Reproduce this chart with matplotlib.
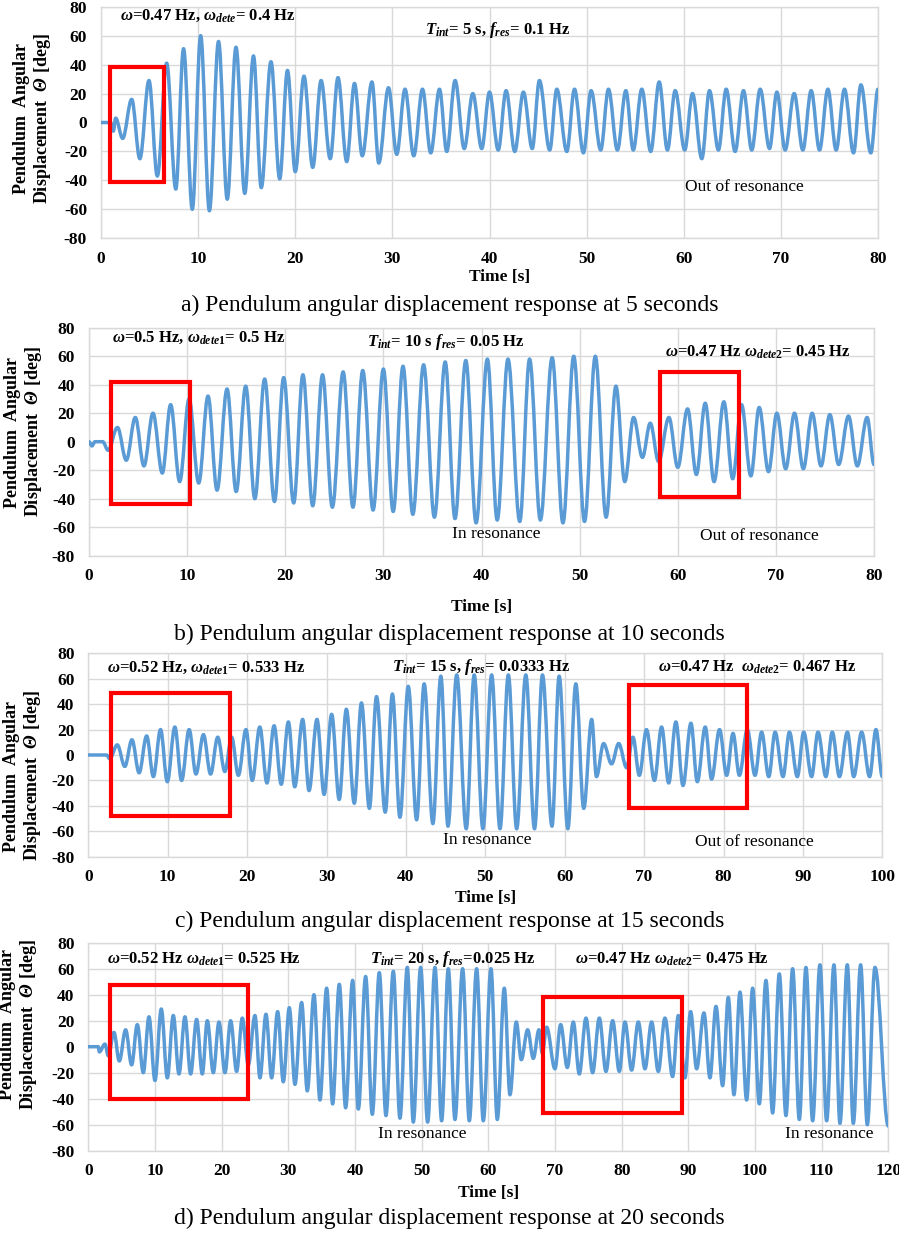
import matplotlib
matplotlib.use("Agg")
import matplotlib.pyplot as plt
from matplotlib.path import Path
from matplotlib.patches import PathPatch, Rectangle

plt.rcParams["font.family"] = ["Liberation Serif", "DejaVu Serif"]
plt.rcParams["axes.unicode_minus"] = False
plt.rcParams["mathtext.fontset"] = "custom"
plt.rcParams["mathtext.rm"] = "Liberation Serif:bold"
plt.rcParams["mathtext.it"] = "Liberation Serif:italic:bold"
plt.rcParams["mathtext.bf"] = "Liberation Serif:bold"
plt.rcParams["mathtext.sf"] = "Liberation Serif:italic:bold"

# ---- data: turning points (time [s], angle [deg]) ----
a_time = [0, 1.0, 1.27, 1.51, 2.23, 3.16, 4.0, 4.94, 5.8, 6.76, 7.7, 8.5, 9.4, 10.26, 11.16,
          12.1, 13.0, 13.9, 14.8, 15.7, 16.5, 17.5, 18.4, 19.2, 20.0, 20.9, 21.8, 22.66, 23.6,
          24.4, 25.3, 26.1, 26.9, 27.9, 28.6, 29.6, 30.45, 31.3, 32.2, 33.1, 33.95, 34.85,
          35.6, 36.46, 37.4, 38.28, 39.2, 40.0, 40.9, 41.71, 42.6, 43.49, 44.4, 45.14, 46.2,
          46.93, 47.96, 48.75, 49.67, 50.46, 51.45, 52.25, 53.17, 54.04, 54.8, 55.68, 56.6,
          57.47, 58.32, 59.12, 60.1, 60.9, 61.86, 62.65, 63.57, 64.37, 65.29, 66.15, 67.0,
          67.87, 68.83, 69.59, 70.44, 71.37, 72.26, 73.12, 73.98, 74.84, 75.69, 76.55, 77.48,
          78.24, 79.26, 80.0]
a_theta = [0, 0, -6, 3, -11, 16, -25, 29, -37, 41, -46, 51, -60, 60, -61,
           56, -53, 52, -49, 46, -45, 42, -39, 36, -34, 32, -31, 29, -25,
           31, -27, 27, -23, 28, -28, 24, -22, 23, -23, 23, -21, 23,
           -20, 29, -18, 20, -18, 21, -19, 22, -20, 21, -18, 29, -19,
           23, -20, 23, -21, 22, -19, 23, -19, 22, -19, 23, -20,
           28, -19, 22, -19, 20, -25, 22, -19, 23, -20, 22, -19,
           23, -18, 21, -19, 20, -19, 22, -19, 23, -19, 23, -21,
           26, -21, 23]

b_time = [0, 0.3, 0.6, 1.4, 1.94, 2.9, 3.8, 4.72, 5.6, 6.52, 7.47, 8.32, 9.24, 10.2, 11.18,
          12.13, 13.05, 14.07, 15.0, 15.97, 16.9, 17.9, 18.9, 19.84, 20.86, 21.8, 22.8, 23.8,
          24.8, 25.9, 26.9, 27.9, 28.95, 30.0, 31.0, 32.0, 33.0, 34.1, 35.2, 36.3, 37.3, 38.4,
          39.45, 40.6, 41.6, 42.7, 43.9, 44.9, 46.0, 47.2, 48.3, 49.4, 50.5, 51.6, 52.7, 53.7,
          54.6, 55.5, 56.4, 57.2, 58.05, 59.1, 60.0, 61.0, 61.9, 62.8, 63.7, 64.7, 65.6, 66.5,
          67.45, 68.3, 69.25, 70.1, 71.0, 71.9, 72.8, 73.7, 74.6, 75.5, 76.4, 77.4, 78.3, 79.3,
          80.0]
b_theta = [0, -3, 0, 0, -6, 10, -13, 17, -17, 20, -22, 26, -28, 30, -29,
           32, -34, 37, -35, 39, -40, 44, -42, 45, -43, 47, -45, 47,
           -46, 49, -46, 50, -48, 51, -49, 53, -51, 54, -53, 56, -54, 57,
           -57, 58, -55, 58, -56, 58, -55, 59, -57, 60, -56, 60, -53, 39,
           -28, 17, -11, 13, -14, 17, -18, 23, -23, 27, -28, 28, -26, 26,
           -24, 24, -21, 20, -19, 20, -19, 20, -17, 19, -16, 18, -17, 17,
           -16]

c_time = [0, 2.3, 2.7, 3.65, 4.6, 5.5, 6.4, 7.35, 8.2, 9.1, 9.95, 10.9, 11.75, 12.7, 13.56,
          14.5, 15.4, 16.3, 17.2, 18.05, 18.9, 19.86, 20.65, 21.6, 22.5, 23.4, 24.3, 25.2,
          26.0, 27.0, 27.8, 28.8, 29.7, 30.65, 31.6, 32.5, 33.5, 34.4, 35.4, 36.3, 37.4, 38.3,
          39.25, 40.3, 41.35, 42.3, 43.4, 44.4, 45.3, 46.4, 47.6, 48.6, 49.7, 50.8, 51.85,
          52.9, 53.95, 55.1, 56.2, 57.2, 58.4, 59.3, 60.4, 61.4, 62.4, 63.4, 64.0, 64.9, 65.9,
          66.8, 67.8, 68.6, 69.4, 70.3, 71.3, 72.2, 73.1, 74.0, 74.9, 75.9, 76.7, 77.7, 78.5,
          79.5, 80.4, 81.2, 82.0, 83.0, 83.97, 84.8, 85.7, 86.5, 87.5, 88.3, 89.3, 90.1, 91.1,
          91.9, 92.9, 93.7, 94.6, 95.6, 96.4, 97.4, 98.4, 99.2, 100.0]
c_theta = [0, 0, -3, 8, -9, 12, -14, 15, -17, 20, -21, 22, -20, 20, -15,
           16, -15, 14, -13, 14, -16, 20, -20, 22, -22, 23, -23, 26,
           -25, 28, -28, 28, -31, 32, -35, 36, -38, 41, -42, 46, -45, 48,
           -49, 54, -51, 56, -54, 62, -56, 63, -58, 63, -58, 63, -58,
           63, -58, 63, -58, 63, -56, 62, -58, 56, -42, 28, -17, 9, -7,
           9, -10, 14, -16, 20, -20, 22, -22, 26, -24, 25, -21, 22, -19,
           20, -16, 17, -16, 20, -16, 18, -17, 18, -17, 18, -17, 18, -17,
           18, -17, 18, -17, 18, -17, 18, -17, 20, -17]

d_time = [0, 1.5, 1.65, 2.5, 3.0, 3.85, 4.65, 5.6, 6.5, 7.35, 8.25, 9.1, 10.0, 10.95, 11.85,
          12.75, 13.6, 14.5, 15.35, 16.25, 17.1, 17.85, 18.75, 19.6, 20.5, 21.35, 22.25, 23.1,
          24.0, 25.0, 25.75, 26.65, 27.5, 28.4, 29.25, 30.15, 31.0, 32.0, 32.85, 33.85, 34.75,
          35.75, 36.65, 37.65, 38.6, 39.65, 40.5, 41.6, 42.6, 43.65, 44.65, 45.75, 46.75, 47.85,
          48.75, 49.85, 50.9, 52.0, 53.0, 54.0, 55.0, 56.15, 57.15, 58.25, 59.25, 60.4, 61.35,
          62.4, 63.25, 64.2, 64.95, 65.9, 66.75, 67.6, 68.1, 68.75, 70.0, 70.85, 71.85, 72.75,
          73.65, 74.65, 75.65, 76.65, 77.65, 78.65, 79.65, 80.5, 81.5, 82.5, 83.5, 84.5, 85.5,
          86.5, 87.65, 88.5, 89.5, 90.35, 91.25, 92.35, 93.25, 94.15, 95.15, 96.0, 96.85, 97.75,
          98.75, 99.65, 100.65, 101.65, 102.65, 103.65, 104.65, 105.65, 106.65, 107.65, 108.65,
          109.75, 110.75, 111.85, 112.75, 113.85, 114.75, 115.85, 116.85, 118.0, 120.0]
d_theta = [0, 0, -4, 2, -7, 11, -11, 13, -14, 17, -20, 23, -26, 29, -24,
           24, -21, 23, -21, 21, -21, 20, -20, 19, -20, 20, -19, 22,
           -14, 24, -24, 25, -24, 27, -27, 30, -29, 34, -34, 40, -41,
           45, -44, 48, -47, 51, -48, 54, -52, 57, -53, 58, -55, 61,
           -58, 61, -58, 61, -57, 60, -56, 60, -57, 60, -57, 60, -56,
           45, -37, 19, -10, 13, -9, 13, -5, 15, -17, 17, -16, 19,
           -21, 22, -20, 22, -19, 20, -19, 19, -18, 19, -17, 19, -19,
           22, -23, 24, -24, 27, -17, 26, -24, 31, -30, 38, -37, 42,
           -41, 45, -44, 51, -51, 56, -53, 60, -56, 61, -57,
           63, -57, 63, -59, 63, -59, 63, -60, 61, -61]

# highlighted windows: (t_start, t_end, theta_low, theta_high)
a_boxes = [(0.9, 6.5, -41, 38)]
b_boxes = [(2.2, 10.3, -44, 42), (58.2, 66.2, -39, 49)]
c_boxes = [(2.9, 17.8, -48, 49), (68.1, 83.0, -41.5, 55)]
d_boxes = [(3.25, 24.0, -40.5, 47.5), (68.25, 89.0, -51, 38)]

captions = ["a) Pendulum angular displacement response at 5 seconds",
            "b) Pendulum angular displacement response at 10 seconds",
            "c) Pendulum angular displacement response at 15 seconds",
            "d) Pendulum angular displacement response at 20 seconds"]

W, H = 899, 1233
LINE = "#5B9BD5"
GRID = "#D9D9D9"
RED = "#FF0000"


def wave_path(t, v, k=0.36):
    # smooth cubic segments between turning points (flat tangent at each extreme)
    verts = [(t[0], v[0])]
    codes = [Path.MOVETO]
    for i in range(1, len(t)):
        dt = t[i] - t[i - 1]
        verts += [(t[i - 1] + k * dt, v[i - 1]), (t[i] - k * dt, v[i]), (t[i], v[i])]
        codes += [Path.CURVE4] * 3
    return Path(verts, codes)


panels = [
    dict(t=a_time, v=a_theta, boxes=a_boxes, xmax=80, px=(101, 878, 6.7, 238.3),
         ylab=(33, 119), xlab=(500, 277), cap=305,
         bold=[(1.95, 74, r"$\omega$=0.47 Hz, $\omega_{dete}$= 0.4 Hz"),
               (33.4, 64, r"$T_{int}$= 5 s, $f_{res}$= 0.1 Hz")],
         plain=[(60.1, -44.6, "Out of resonance")]),
    dict(t=b_time, v=b_theta, boxes=b_boxes, xmax=80, px=(89, 874, 327.7, 555.7),
         ylab=(24, 432), xlab=(482, 607), cap=634,
         bold=[(2.3, 73, r"$\omega$=0.5 Hz, $\omega_{dete1}$= 0.5 Hz"),
               (28.3, 70, r"$T_{int}$= 10 s $f_{res}$= 0.05 Hz"),
               (58.7, 63, r"$\omega$=0.47 Hz $\omega_{dete2}$= 0.45 Hz")],
         plain=[(37.0, -65, "In resonance"), (62.3, -66, "Out of resonance")]),
    dict(t=c_time, v=c_theta, boxes=c_boxes, xmax=100, px=(88.3, 882.3, 653.3, 856.7),
         ylab=(23, 776), xlab=(485.5, 898), cap=921.7,
         bold=[(2.35, 68.7, r"$\omega$=0.52 Hz, $\omega_{dete1}$= 0.533 Hz"),
               (38.2, 69, r"$T_{int}$= 15 s, $f_{res}$= 0.0333 Hz"),
               (71.75, 68.7, r"$\omega$=0.47 Hz  $\omega_{dete2}$= 0.467 Hz")],
         plain=[(44.7, -67, "In resonance"), (76.4, -68.5, "Out of resonance")]),
    dict(t=d_time, v=d_theta, boxes=d_boxes, xmax=120, px=(88.3, 888.3, 942.7, 1150.7),
         ylab=(19, 1025), xlab=(489, 1193), cap=1218,
         bold=[(2.8, 67.5, r"$\omega$=0.52 Hz $\omega_{dete1}$= 0.525 Hz"),
               (42.25, 67.5, r"$T_{int}$= 20 s, $f_{res}$=0.025 Hz"),
               (73.0, 67.5, r"$\omega$=0.47 Hz $\omega_{dete2}$= 0.475 Hz")],
         plain=[(43.45, -67, "In resonance"), (104.5, -67, "In resonance")]),
]

fig = plt.figure(figsize=(W / 100, H / 100), dpi=100)

for p, cap in zip(panels, captions):
    left, right, top, bottom = p["px"]
    ax = fig.add_axes([left / W, 1 - bottom / H, (right - left) / W, (bottom - top) / H])
    ax.set_xlim(0, p["xmax"])
    ax.set_ylim(-80, 80)
    ax.set_xticks(range(0, p["xmax"] + 1, 10))
    ax.set_yticks(range(-80, 81, 20))
    ax.grid(True, color=GRID, lw=1.0)
    ax.set_axisbelow(True)
    for s in ax.spines.values():
        s.set_color(GRID)
        s.set_linewidth(1.0)
    ax.tick_params(length=0, labelsize=12.5)
    ax.tick_params(axis="x", pad=9)
    ax.tick_params(axis="y", pad=10)
    for lab in ax.get_xticklabels() + ax.get_yticklabels():
        lab.set_fontweight("bold")

    ax.add_patch(PathPatch(wave_path(p["t"], p["v"]), fill=False, edgecolor=LINE,
                           lw=2.5, joinstyle="round", capstyle="round", zorder=3))

    for (x0, x1, y0, y1) in p["boxes"]:
        ax.add_patch(Rectangle((x0, y0), x1 - x0, y1 - y0, fill=False,
                               edgecolor=RED, lw=3, zorder=4))

    for (x, y, s) in p["bold"]:
        ax.text(x, y, s, fontsize=12, fontweight="bold", ha="left", va="center", zorder=5)
    for (x, y, s) in p["plain"]:
        ax.text(x, y, s, fontsize=12.5, ha="left", va="center", zorder=5)

    fig.text(p["ylab"][0] / W, 1 - p["ylab"][1] / H,
             "Pendulum  Angular\nDisplacement  $\\mathsf{\\Theta}$ [deg]",
             rotation=90, ha="center", va="center", multialignment="center",
             fontsize=13, fontweight="bold", linespacing=1.15)
    fig.text(p["xlab"][0] / W, 1 - p["xlab"][1] / H, "Time [s]",
             ha="center", va="center", fontsize=12.5, fontweight="bold")
    fig.text(0.5, 1 - p["cap"] / H, cap, ha="center", va="center", fontsize=17)

fig.savefig("out.png", dpi=100)
